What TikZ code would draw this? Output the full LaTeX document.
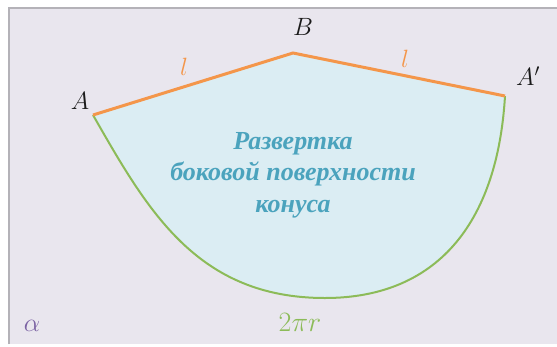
\RequirePackage{fix-cm}
\documentclass[tikz,border=0pt]{standalone}
\usepackage{fontspec}
\newfontfamily\ruserif{Liberation Serif}
\definecolor{bgc}{HTML}{E9E6EE}
\definecolor{bordc}{HTML}{B4B2B8}
\definecolor{sectc}{HTML}{DBEDF3}
\definecolor{orangec}{HTML}{F4964A}
\definecolor{greenc}{HTML}{8CBB58}
\definecolor{tealc}{HTML}{4BA3BD}
\definecolor{purplec}{HTML}{7B62A3}
\definecolor{labelc}{HTML}{1A1A1A}
\tikzset{
  edgeline/.style={orangec, line width=3pt, line join=miter},
  arcline/.style={greenc, line width=2pt},
  ptlabel/.style={labelc, font=\fontsize{25}{25}\selectfont, inner sep=0pt},
  lenlabel/.style={orangec, font=\fontsize{25}{25}\selectfont, inner sep=0pt},
  titletext/.style={tealc, align=center, inner sep=0pt,
    font=\ruserif\bfseries\itshape\fontsize{26}{31.5}\selectfont}
}
\begin{document}
\begin{tikzpicture}[x=1pt,y=-1pt]
\useasboundingbox (0,0) rectangle (557,346);
\fill[white] (0,0) rectangle (557,346);
\fill[bgc] (9,8) rectangle (557,344);
\draw[bordc, line width=1.2pt] (9,344) -- (9,8) -- (557,8);
\coordinate (A) at (93,115);
\coordinate (B) at (293,53);
\coordinate (A1) at (505,96);
\coordinate (Bot) at (325,298);
\fill[sectc] (A) .. controls (147.6,210.5) and (197,298) .. (Bot)
  .. controls (435,298) and (497.3,225.7) .. (A1) -- (B) -- cycle;
\draw[arcline] (A) .. controls (147.6,210.5) and (197,298) .. (Bot)
  .. controls (435,298) and (497.3,225.7) .. (A1);
\draw[edgeline] (A) -- (B) -- (A1);
\node[ptlabel] (lA) at (80,101) {$A$};
\node[ptlabel] (lB) at (303,27) {$B$};
\node[ptlabel] (lA1) at (528,76) {$A'$};
\node[lenlabel] (l1) at (184,67) {$l$};
\node[lenlabel] (l2) at (405,59) {$l$};
\node[titletext] (title) at (293,175) {Развертка\\боковой поверхности\\конуса};
\node[purplec, inner sep=0pt, font=\fontsize{26}{26}\selectfont] (alpha) at (32,326) {$\alpha$};
\node[greenc, inner sep=0pt, font=\fontsize{28}{28}\selectfont] (len) at (300,322) {$2\pi r$};
\end{tikzpicture}
\end{document}
